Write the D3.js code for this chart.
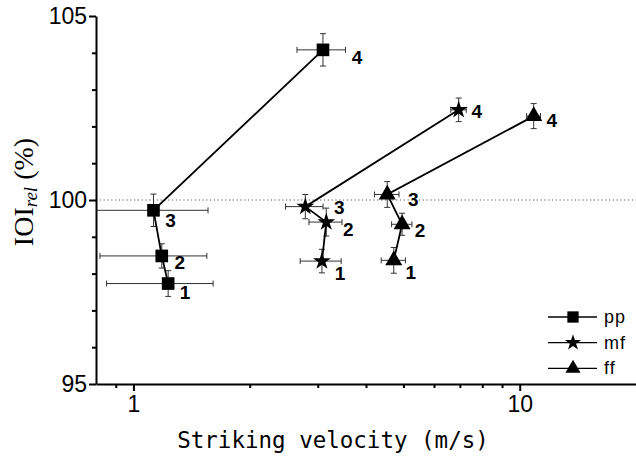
<html>
    <head>
        <style>
            body { margin: 0; background: #fff; }
            .axis path, .axis line { stroke: #000; }
            .axis text { font-family: "Liberation Sans Narrow", "Liberation Sans", Arial, sans-serif; font-size: 23px; fill: #000; }
            .errbar { stroke: #333; stroke-width: 1px; fill: none; }
            .curve { stroke: #000; stroke-width: 1.8px; fill: none; }
            .ptlabel { font-family: "Liberation Sans", Arial, sans-serif; font-size: 19px; font-weight: bold; }
        </style>
    </head>
    <body>
        <svg></svg>

        <script src="https://d3js.org/d3.v7.min.js"></script>
        <script>
            // chart values
            const levels = ["1", "2", "3", "4"];
            const seriesNames = ["pp", "mf", "ff"];

            const ppVel   = [1.23, 1.184, 1.127, 3.095];
            const ppVelSd = [0.378, 0.365, 0.433, 0.444];
            const ppIoi   = [97.73, 98.48, 99.72, 104.08];
            const ppIoiSd = [0.35, 0.33, 0.44, 0.44];

            const mfVel   = [3.076, 3.157, 2.786, 6.95];
            const mfVelSd = [0.374, 0.31, 0.31, 0.32];
            const mfIoi   = [98.34, 99.40, 99.82, 102.45];
            const mfIoiSd = [0.32, 0.38, 0.33, 0.32];

            const ffVel   = [4.72, 4.96, 4.54, 10.87];
            const ffVelSd = [0.34, 0.30, 0.33, 0.45];
            const ffIoi   = [98.36, 99.34, 100.15, 102.28];
            const ffIoiSd = [0.35, 0.30, 0.35, 0.34];

            const xMajor = [1, 10];
            const xMinor = [0.9, 2, 3, 4, 5, 6, 7, 8, 9];
            const yMajor = [95, 100, 105];
            const yMinor = [96, 97, 98, 99, 101, 102, 103, 104];
            const refLine = 100;

            // pixel offsets of the "1".."4" labels from each point
            const labelOffsets = {
                pp: [[17, 9], [18, 7], [17, 10], [34, 8]],
                mf: [[18, 12], [22, 7], [34, 1], [18, 2]],
                ff: [[17, 12], [18, 6], [26, 5], [18, 4]]
            };

            const width = 636, height = 457;
            const plot = { left: 96, right: 636, top: 16, bottom: 384 };

            const svg = d3.select("svg")
                .attr("width", width)
                .attr("height", height);

            const x = d3.scaleLog().domain([0.8, 20]).range([plot.left, plot.right]);
            const y = d3.scaleLinear().domain([95, 105]).range([plot.bottom, plot.top]);

            const symbols = { pp: d3.symbolSquare, mf: d3.symbolStar, ff: d3.symbolTriangle };
            const symbolSize = { pp: 160, mf: 100, ff: 125 };

            const series = [
                { name: "pp", vel: ppVel, velSd: ppVelSd, ioi: ppIoi, ioiSd: ppIoiSd },
                { name: "mf", vel: mfVel, velSd: mfVelSd, ioi: mfIoi, ioiSd: mfIoiSd },
                { name: "ff", vel: ffVel, velSd: ffVelSd, ioi: ffIoi, ioiSd: ffIoiSd }
            ].map(function(s) {
                s.points = levels.map(function(l, i) {
                    return { level: l, vel: s.vel[i], velSd: s.velSd[i], ioi: s.ioi[i], ioiSd: s.ioiSd[i], off: labelOffsets[s.name][i] };
                });
                return s;
            });

            svg.append("clipPath").attr("id", "clip")
                .append("rect")
                .attr("x", plot.left).attr("y", 0)
                .attr("width", plot.right - plot.left).attr("height", plot.bottom);

            // dotted reference line at 100 %
            svg.append("line")
                .attr("x1", plot.left).attr("x2", plot.right)
                .attr("y1", y(refLine)).attr("y2", y(refLine))
                .attr("stroke", "#555")
                .attr("stroke-width", 1)
                .attr("stroke-dasharray", "1.2,2.6");

            const g = svg.append("g").attr("clip-path", "url(#clip)");

            // error bars
            const cap = 3;
            series.forEach(function(s) {
                const eb = g.append("g").attr("class", "errbar");
                s.points.forEach(function(p) {
                    const cx = x(p.vel), cy = y(p.ioi);
                    const x0 = x(Math.max(0.5, p.vel - p.velSd)), x1 = x(p.vel + p.velSd);
                    const y0 = y(p.ioi - p.ioiSd), y1 = y(p.ioi + p.ioiSd);
                    eb.append("path").attr("d",
                        "M" + x0 + "," + cy + "H" + x1 +
                        "M" + x0 + "," + (cy - cap) + "V" + (cy + cap) +
                        "M" + x1 + "," + (cy - cap) + "V" + (cy + cap) +
                        "M" + cx + "," + y0 + "V" + y1 +
                        "M" + (cx - cap) + "," + y0 + "H" + (cx + cap) +
                        "M" + (cx - cap) + "," + y1 + "H" + (cx + cap));
                });
            });

            // connecting lines
            const line = d3.line()
                .x(function(d) { return x(d.vel); })
                .y(function(d) { return y(d.ioi); });

            g.selectAll(".curve")
                .data(series)
                .join("path")
                .attr("class", "curve")
                .attr("d", function(s) { return line(s.points); });

            // markers and level labels
            series.forEach(function(s) {
                const sym = d3.symbol().type(symbols[s.name]).size(symbolSize[s.name]);
                g.selectAll(".m-" + s.name)
                    .data(s.points)
                    .join("path")
                    .attr("class", "m-" + s.name)
                    .attr("d", sym)
                    .attr("fill", "#000")
                    .attr("transform", function(d) { return "translate(" + x(d.vel) + "," + y(d.ioi) + ")"; });

                svg.selectAll(".l-" + s.name)
                    .data(s.points)
                    .join("text")
                    .attr("class", "ptlabel l-" + s.name)
                    .attr("x", function(d) { return x(d.vel) + d.off[0]; })
                    .attr("y", function(d) { return y(d.ioi) + d.off[1]; })
                    .attr("text-anchor", "middle")
                    .attr("dominant-baseline", "central")
                    .text(function(d) { return d.level; });
            });

            // axes
            const xAxis = svg.append("g").attr("class", "axis")
                .attr("transform", "translate(0," + plot.bottom + ")");
            xAxis.call(d3.axisBottom(x).tickValues(xMajor).tickSizeInner(7).tickSizeOuter(0).tickPadding(5).tickFormat(d3.format("d")));
            xAxis.select(".domain").attr("stroke-width", 2);
            xAxis.selectAll(".tick line").attr("stroke-width", 2);

            const xMinorAxis = svg.append("g").attr("class", "axis")
                .attr("transform", "translate(0," + plot.bottom + ")")
                .call(d3.axisBottom(x).tickValues(xMinor).tickSize(4).tickFormat(""));
            xMinorAxis.select(".domain").remove();
            xMinorAxis.selectAll(".tick line").attr("stroke-width", 2);

            const yAxis = svg.append("g").attr("class", "axis")
                .attr("transform", "translate(" + plot.left + ",0)");
            yAxis.call(d3.axisLeft(y).tickValues(yMajor).tickSizeInner(7).tickSizeOuter(0).tickPadding(2));
            yAxis.select(".domain").attr("stroke-width", 2);
            yAxis.selectAll(".tick line").attr("stroke-width", 2);

            const yMinorAxis = svg.append("g").attr("class", "axis")
                .attr("transform", "translate(" + plot.left + ",0)")
                .call(d3.axisLeft(y).tickValues(yMinor).tickSize(4).tickFormat(""));
            yMinorAxis.select(".domain").remove();
            yMinorAxis.selectAll(".tick line").attr("stroke-width", 2);

            // axis titles
            svg.append("text")
                .attr("x", (178 + 488) / 2)
                .attr("y", 448)
                .attr("text-anchor", "middle")
                .style("font-family", "'DejaVu Sans Mono', 'Liberation Mono', monospace")
                .style("font-size", "22.5px")
                .text("Striking velocity (m/s)");

            const yTitle = svg.append("text")
                .attr("transform", "translate(33,192) rotate(-90)")
                .attr("text-anchor", "middle")
                .style("font-family", "'Liberation Serif', 'Times New Roman', serif")
                .style("font-size", "28px");
            yTitle.append("tspan").text("IOI");
            yTitle.append("tspan").attr("dy", 4).style("font-size", "19px").style("font-style", "italic").text("rel");
            yTitle.append("tspan").attr("dy", -4).text(" (%)");

            // legend
            const legend = svg.append("g").attr("transform", "translate(548,317)");
            seriesNames.forEach(function(name, i) {
                const row = legend.append("g").attr("transform", "translate(0," + (i * 25.7) + ")");
                row.append("line").attr("x1", 0).attr("x2", 49).attr("stroke", "#000").attr("stroke-width", 1.3);
                row.append("path")
                    .attr("d", d3.symbol().type(symbols[name]).size(symbolSize[name] * 0.8)())
                    .attr("transform", "translate(25,0)");
                row.append("text")
                    .attr("x", 56).attr("y", 0)
                    .attr("dominant-baseline", "central")
                    .style("font-family", "'Liberation Sans', Arial, sans-serif")
                    .style("font-size", "18px")
                    .style("letter-spacing", "1px")
                    .text(name);
            });
        </script>
    </body>
</html>
